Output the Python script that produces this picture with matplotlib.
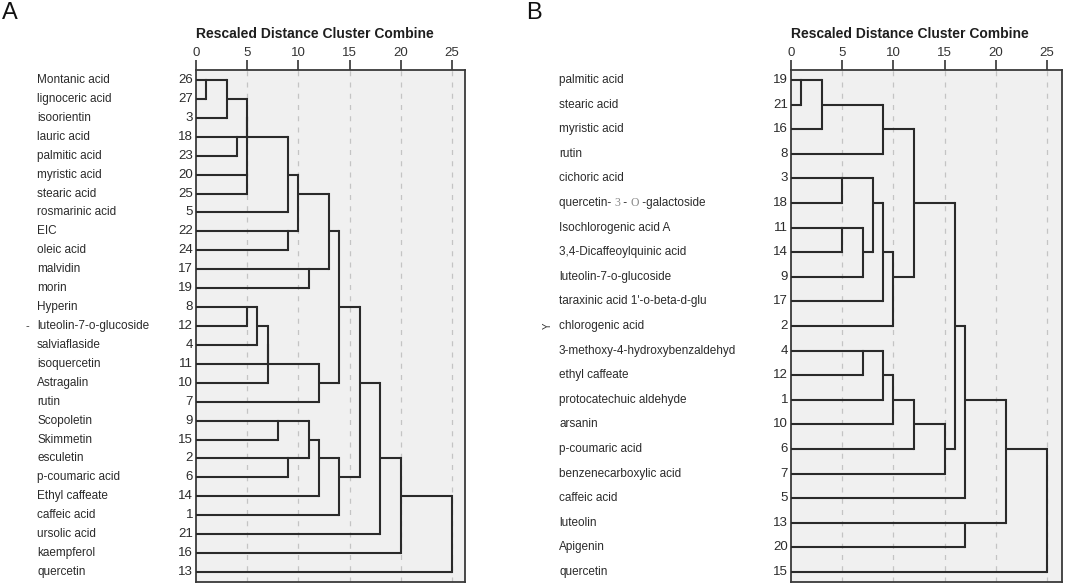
import matplotlib
matplotlib.use("Agg")
import matplotlib.pyplot as plt
import matplotlib.transforms as mtransforms
from matplotlib.transforms import offset_copy

plt.rcParams['font.family'] = ['Liberation Sans', 'DejaVu Sans']

# ---------------- Data ----------------
A_names = ["Montanic acid", "lignoceric acid", "isoorientin", "lauric acid", "palmitic acid",
           "myristic acid", "stearic acid", "rosmarinic acid", "EIC", "oleic acid", "malvidin",
           "morin", "Hyperin", "luteolin-7-o-glucoside", "salviaflaside", "isoquercetin",
           "Astragalin", "rutin", "Scopoletin", "Skimmetin", "esculetin", "p-coumaric acid",
           "Ethyl caffeate", "caffeic acid", "ursolic acid", "kaempferol", "quercetin"]
A_ids = [26, 27, 3, 18, 23, 20, 25, 5, 22, 24, 17, 19, 8, 12, 4, 11, 10, 7, 9, 15, 2, 6, 14, 1, 21, 16, 13]
# merges: (node a, node b, rescaled distance); leaves 0..n-1, merge k makes node n+k
A_merges = [(0, 1, 1), (27, 2, 3), (3, 4, 4), (5, 6, 5), (28, 29, 5), (31, 30, 5),
            (32, 7, 9), (8, 9, 9), (33, 34, 10), (10, 11, 11), (35, 36, 13),
            (12, 13, 5), (38, 14, 6), (39, 15, 7), (40, 16, 7), (41, 17, 12),
            (37, 42, 14), (18, 19, 8), (20, 21, 9), (44, 45, 11), (46, 22, 12),
            (47, 23, 14), (43, 48, 16), (49, 24, 18), (50, 25, 20), (51, 26, 25)]

B_names = ["palmitic acid", "stearic acid", "myristic acid", "rutin", "cichoric acid",
           "quercetin- 3 - O -galactoside", "Isochlorogenic acid A", "3,4-Dicaffeoylquinic acid",
           "luteolin-7-o-glucoside", "taraxinic acid 1'-o-beta-d-glu", "chlorogenic acid",
           "3-methoxy-4-hydroxybenzaldehyd", "ethyl caffeate", "protocatechuic aldehyde",
           "arsanin", "p-coumaric acid", "benzenecarboxylic acid", "caffeic acid", "luteolin",
           "Apigenin", "quercetin"]
B_ids = [19, 21, 16, 8, 3, 18, 11, 14, 9, 17, 2, 4, 12, 1, 10, 6, 7, 5, 13, 20, 15]
B_merges = [(0, 1, 1), (21, 2, 3), (22, 3, 9), (4, 5, 5), (6, 7, 5), (25, 8, 7),
            (24, 26, 8), (27, 9, 9), (28, 10, 10), (23, 29, 12), (11, 12, 7),
            (31, 13, 9), (32, 14, 10), (33, 15, 12), (34, 16, 15), (30, 35, 16),
            (36, 17, 17), (18, 19, 17), (37, 38, 21), (39, 20, 25)]

x_ticks = [0, 5, 10, 15, 20, 25]
title = "Rescaled Distance Cluster Combine"

W, H = 1065, 586
fig = plt.figure(figsize=(W / 100, H / 100), dpi=100)
renderer = fig.canvas.get_renderer()

LINE = "#2a2a2a"
TXT = "#2b2b2b"


def mixed_label(ax, tr, x, y, text):
    # the original shows "3" and "O" in a lighter serif face
    pieces = [("quercetin- ", {}), ("3", {"family": "Liberation Serif", "color": "#8a8a8a"}),
              (" - ", {}), ("O", {"family": "Liberation Serif", "color": "#8a8a8a"}),
              (" -galactoside", {})]
    dx = 0.0
    for s, kw in pieces:
        t = ax.text(x, y, s, transform=offset_copy(tr, fig=fig, x=dx, units="dots"),
                    fontsize=8.5, color=kw.get("color", TXT),
                    family=kw.get("family", ['Liberation Sans', 'DejaVu Sans']),
                    ha="left", va="center", clip_on=False)
        dx += t.get_window_extent(renderer=renderer).width


def draw_panel(names, ids, merges, left_px, right_px, name_x_px, num_x_px, letter, letter_x_px):
    n = len(names)
    top_px, bot_px = 70, 582
    first_row_px, last_row_px = 80, 572
    sp = (last_row_px - first_row_px) / (n - 1)
    ax = fig.add_axes([left_px / W, 1 - bot_px / H, (right_px - left_px) / W, (bot_px - top_px) / H])
    ax.set_facecolor("#f0f0f0")
    ax.set_xlim(0, 25 + (right_px - left_px - 256.0) / 10.24)
    ax.set_ylim(n - 1 + (bot_px - last_row_px) / sp, -(first_row_px - top_px) / sp)

    for t in x_ticks[1:]:
        ax.axvline(t, color="#c4c4c4", lw=0.9, ls=(0, (4, 5)), zorder=1)

    pos = {i: i for i in range(n)}
    hgt = {i: 0 for i in range(n)}
    for k, (a, b, h) in enumerate(merges):
        ya, yb = pos[a], pos[b]
        ax.plot([hgt[a], h], [ya, ya], color=LINE, lw=1.5, solid_capstyle="butt", zorder=3)
        ax.plot([hgt[b], h], [yb, yb], color=LINE, lw=1.5, solid_capstyle="butt", zorder=3)
        ax.plot([h, h], [ya, yb], color=LINE, lw=1.5, solid_capstyle="projecting", zorder=3)
        node = n + k
        pos[node] = (min(ya, yb) + max(ya, yb)) // 2
        hgt[node] = h

    ax.xaxis.tick_top()
    ax.set_xticks(x_ticks)
    ax.set_xticklabels([str(t) for t in x_ticks], fontsize=9.5, color="#333333")
    ax.tick_params(axis="x", direction="out", length=7.2, width=1.2, color="#333333", pad=0.5)
    ax.set_yticks([])
    for s in ax.spines.values():
        s.set_color("#3a3a3a")
        s.set_linewidth(1.3)

    tr = mtransforms.blended_transform_factory(fig.transFigure, ax.transData)
    for i, (nm, idn) in enumerate(zip(names, ids)):
        if nm.startswith("quercetin- 3"):
            mixed_label(ax, tr, name_x_px / W, i, nm)
        else:
            ax.text(name_x_px / W, i, nm, transform=tr, fontsize=8.5, color=TXT,
                    ha="left", va="center", clip_on=False)
        ax.text(num_x_px / W, i, str(idn), transform=tr, fontsize=9.5, color=TXT,
                ha="right", va="center", clip_on=False)

    fig.text(left_px / W, 1 - 34 / H, title, fontsize=10, fontweight="bold",
             color="#1e1e1e", ha="left", va="center")
    fig.text(letter_x_px / W, 1 - 13 / H, letter, fontsize=17, color="#111111",
             ha="left", va="center")
    return ax


axA = draw_panel(A_names, A_ids, A_merges, 196, 465, 37, 193, "A", 2)
axB = draw_panel(B_names, B_ids, B_merges, 791, 1062, 559, 788, "B", 526)

fig.text(27 / W, 1 - 326 / H, "-", fontsize=8, color="#333333", ha="center", va="center")
fig.text(548 / W, 1 - 326 / H, "Y", fontsize=7, color="#333333", ha="center", va="center", rotation=90)

fig.savefig("out.png", dpi=100, facecolor="white")
